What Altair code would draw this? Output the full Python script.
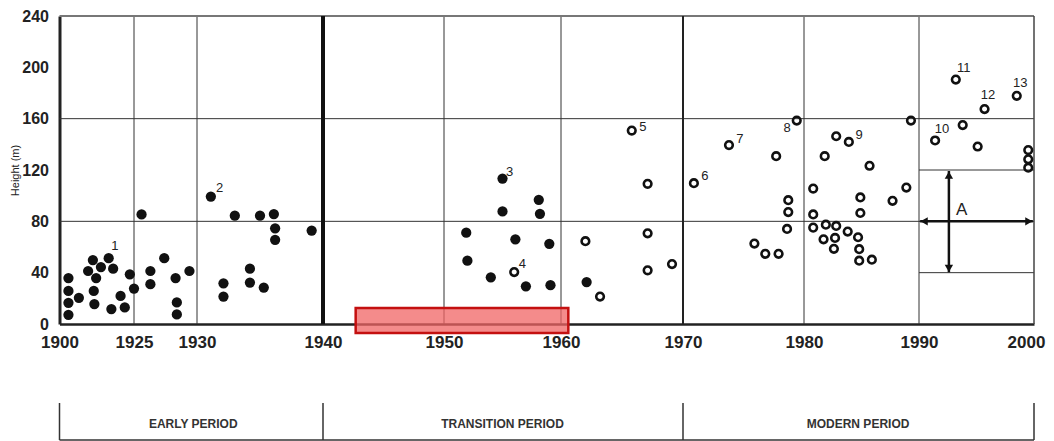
import altair as alt
import pandas as pd

# ---------------- data ----------------
TICK_YEARS = [1900, 1925, 1930, 1940, 1950, 1960, 1970, 1980, 1990, 2000]
Y_TICKS = [0, 40, 80, 120, 160, 200, 240]

solid_years = [1903, 1903, 1903, 1903, 1906.5, 1909.6, 1911.2, 1912.3, 1911.5, 1911.7,
               1913.9, 1916.5, 1918, 1917.4, 1920.5, 1921.9, 1923.6, 1925, 1925.6, 1926.3,
               1926.3, 1927.4, 1928.3, 1928.4, 1928.4, 1929.4, 1931.1, 1932.1, 1932.1, 1933,
               1934.2, 1934.2, 1935, 1935.3, 1936.1, 1936.2, 1936.2, 1939.1,
               1955, 1955, 1958.1, 1958.2, 1951.9, 1956.1, 1959, 1952, 1954, 1957, 1959.1, 1962.1]
solid_heights = [35.8, 25.8, 16.5, 7.2, 20.4, 41.3, 49.8, 35.8, 25.8, 15.5,
                 44.4, 51.3, 43.1, 11.6, 21.9, 12.9, 38.7, 27.6, 85.4, 41.3,
                 31, 51.3, 35.8, 16.8, 7.5, 41.3, 99.3, 31.7, 21.4, 84.4,
                 43.1, 32.3, 84.4, 28.4, 85.7, 74.6, 65.6, 72.8,
                 113.3, 87.7, 96.8, 85.9, 71.2, 66, 62.5, 49.3, 36.4, 29.4, 30.2, 32.7]

open_years = [1956, 1962, 1963.2, 1965.8, 1967.1, 1967.1, 1967.1, 1969.1, 1970.9, 1973.8,
              1977.7, 1979.4, 1978.7, 1978.7, 1978.6, 1975.9, 1976.8, 1977.9, 1980.8, 1980.8,
              1980.8, 1981.8, 1982.8, 1983.9, 1981.9, 1982.8, 1981.7, 1982.7, 1982.6, 1983.8,
              1984.7, 1984.8, 1984.8, 1985.9, 1984.9, 1984.9, 1985.7, 1987.7, 1988.9, 1989.3,
              1991.4, 1993.2, 1993.8, 1995.1, 1995.7, 1998.5, 1999.5, 1999.5, 1999.5]
open_heights = [40.5, 64.5, 21.4, 150.7, 109.2, 70.7, 41.8, 46.7, 109.7, 139.4,
                130.8, 158.5, 96.5, 87.2, 74.1, 62.7, 54.7, 54.7, 105.5, 85.4,
                75.1, 130.8, 146.3, 141.9, 77.4, 76.4, 66, 67.1, 58.6, 72,
                67.6, 58.3, 49.3, 50.1, 98.6, 86.5, 123.3, 96, 106.3, 158.5,
                143, 190.5, 155, 138.3, 167.5, 177.8, 135.5, 128.3, 121.8]

label_texts = ["1", "2", "3", "4", "5", "6", "7", "8", "9", "10", "11", "12", "13"]
label_years = [1918.6, 1931.8, 1955.6, 1956.7, 1966.7, 1971.8, 1974.7, 1978.6, 1984.8,
               1992.0, 1993.9, 1996.0, 1998.8]
label_heights = [60.6, 106.3, 118.4, 47.0, 153.3, 115.3, 143.8, 152.7, 147.6,
                 152.3, 199.2, 178.6, 188.1]

thin_grid_years = [1925, 1930, 1950, 1960, 1980, 1990]
heavy_grid_years = [1940]
medium_grid_years = [1970]
frame_right_years = [2000]
full_grid_heights = [80, 160]
inset_grid_heights = [40, 80, 120]
inset_start = [1990]
inset_end = [2000]

rect_start = [1942.7]
rect_end = [1960.6]
rect_low = [-7.0]
rect_high = [12.4]

arrow_year = [1992.6]
arrow_low = [40.3]
arrow_high = [119.2]
arrow_level = [80]
arrow_left = [1990.1]
arrow_right = [1999.9]
arrow_label = ["A"]
arrow_label_year = [1993.7]
arrow_label_height = [89]

period_bounds = [1900, 1940, 1970, 2000]
period_names = ["EARLY PERIOD", "TRANSITION PERIOD", "MODERN PERIOD"]
period_centers = [1929.7, 1955.0, 1984.7]

# ---------------- styling ----------------
NARROW = "'Liberation Sans Narrow', 'Arial Narrow', 'Liberation Sans', Arial, sans-serif"
SANS = "'Liberation Sans', Arial, sans-serif"
TICK_PX = [0, 74.5, 137.5, 263.5, 384.5, 501.5, 623.5, 744.5, 859.5, 974.5]

xscale = alt.Scale(domain=TICK_YEARS, range=TICK_PX, nice=False, zero=False)
yscale = alt.Scale(domain=[0, 240], nice=False, zero=False)

xaxis = alt.Axis(values=TICK_YEARS, format="d", grid=False, ticks=False,
                 domainWidth=2.5, domainColor="#222222", labelFont=NARROW,
                 labelFontSize=17, labelFontWeight="bold", labelColor="#222222",
                 labelPadding=10, labelFlush=False, labelOverlap=False, title=None,
                 labelOffset=alt.condition("datum.value == 2000", alt.value(-8), alt.value(0)))
yaxis = alt.Axis(values=Y_TICKS, grid=False, ticks=False, domainWidth=3,
                 domainColor="#222222", labelFont=NARROW, labelFontSize=16,
                 labelFontWeight="bold", labelColor="#222222", labelPadding=11,
                 labelFlush=False, labelOverlap=False, title="Height (m)",
                 titleFont=SANS, titleFontSize=11, titleFontWeight="normal",
                 titleColor="#222222", titleX=-39, titleY=154, titleBaseline="bottom",
                 titleAlign="center", titleAngle=270)

X = lambda f: alt.X(f, type="quantitative", scale=xscale, axis=xaxis)
Y = lambda f: alt.Y(f, type="quantitative", scale=yscale, axis=yaxis)

df_solid = pd.DataFrame({"year": solid_years, "height": solid_heights})
df_open = pd.DataFrame({"year": open_years, "height": open_heights})
df_lab = pd.DataFrame({"year": label_years, "height": label_heights, "t": label_texts})


def vlines(years, width, color):
    return alt.Chart(pd.DataFrame({"year": years})).mark_rule(
        strokeWidth=width, color=color).encode(
        x=X("year"), y=alt.datum(0), y2=alt.datum(240))


def hlines(heights, start, end, width, color):
    return alt.Chart(pd.DataFrame({"h": heights, "s": start * len(heights),
                                   "e": end * len(heights)})).mark_rule(
        strokeWidth=width, color=color).encode(
        x=X("s"), x2="e", y=Y("h"))


thin = vlines(thin_grid_years, 1, "#333333")
heavy = vlines(heavy_grid_years, 4, "#111111")
medium = vlines(medium_grid_years, 2, "#222222")
right = vlines(frame_right_years, 1.5, "#444444")
hfull = hlines(full_grid_heights, [1900], [2000], 1, "#333333")
top = hlines([240], [1900], [2000], 2, "#777777")
hinset = hlines(inset_grid_heights, inset_start, inset_end, 1, "#333333")

rect = alt.Chart(pd.DataFrame({"s": rect_start, "e": rect_end, "lo": rect_low,
                               "hi": rect_high})).mark_rect(
    fill="#f06464", fillOpacity=0.75, stroke="#c41010", strokeWidth=2.5).encode(
    x=X("s"), x2="e", y=Y("lo"), y2="hi")

solid = alt.Chart(df_solid).mark_circle(size=105, color="#111111", opacity=1).encode(
    x=X("year"), y=Y("height"))
opn = alt.Chart(df_open).mark_point(shape="circle", filled=False, stroke="#111111",
                                    strokeWidth=2.6, size=58, opacity=1).encode(
    x=X("year"), y=Y("height"))

labels = alt.Chart(df_lab).mark_text(font=NARROW, fontSize=13, color="#222222",
                                     align="center", baseline="middle").encode(
    x=X("year"), y=Y("height"), text="t")

adf = pd.DataFrame({"x": arrow_year, "lo": arrow_low, "hi": arrow_high, "lev": arrow_level,
                    "l": arrow_left, "r": arrow_right})
avert = alt.Chart(adf).mark_rule(strokeWidth=2.5, color="#111111").encode(
    x=X("x"), y=Y("lo"), y2="hi")
ahor = alt.Chart(adf).mark_rule(strokeWidth=2.5, color="#111111").encode(
    x=X("l"), x2="r", y=Y("lev"))
head_up = alt.Chart(adf).mark_point(shape="triangle-up", filled=True, color="#111111",
                                    size=70, opacity=1).encode(
    x=X("x"), y=Y("hi"), yOffset=alt.value(4))
head_down = alt.Chart(adf).mark_point(shape="triangle-down", filled=True, color="#111111",
                                      size=70, opacity=1).encode(
    x=X("x"), y=Y("lo"), yOffset=alt.value(-4))
head_left = alt.Chart(adf).mark_point(shape="triangle-left", filled=True, color="#111111",
                                      size=70, opacity=1).encode(
    x=X("l"), y=Y("lev"), xOffset=alt.value(4))
head_right = alt.Chart(adf).mark_point(shape="triangle-right", filled=True, color="#111111",
                                       size=70, opacity=1).encode(
    x=X("r"), y=Y("lev"), xOffset=alt.value(-4))
alabel = alt.Chart(pd.DataFrame({"x": arrow_label_year, "y": arrow_label_height,
                                 "t": arrow_label})).mark_text(
    font=SANS, fontSize=17, color="#222222").encode(x=X("x"), y=Y("y"), text="t")

pdf = pd.DataFrame({"b": period_bounds})
pticks = alt.Chart(pdf).mark_rule(strokeWidth=1.5, color="#333333").encode(
    x=X("b"), y=alt.value(387), y2=alt.value(424))
pbase = alt.Chart(pd.DataFrame({"s": [period_bounds[0]], "e": [period_bounds[-1]]})).mark_rule(
    strokeWidth=1.5, color="#333333").encode(x=X("s"), x2="e", y=alt.value(424))
ptext = alt.Chart(pd.DataFrame({"c": period_centers, "n": period_names})).mark_text(
    font=SANS, fontSize=12, fontWeight="bold", color="#333333").encode(
    x=X("c"), y=alt.value(408), text="n")

chart = alt.layer(
    thin, hfull, hinset, top, right, medium, heavy, rect, solid, opn, labels,
    avert, ahor, head_up, head_down, head_left, head_right, alabel,
    pticks, pbase, ptext,
).properties(
    width=975, height=308,
    autosize=alt.AutoSizeParams(type="none"),
    padding={"left": 51.5, "top": 8, "right": 11.5, "bottom": 118},
).configure_view(stroke=None)

chart.save("out.html", embed_options={"renderer": "svg", "actions": False})
